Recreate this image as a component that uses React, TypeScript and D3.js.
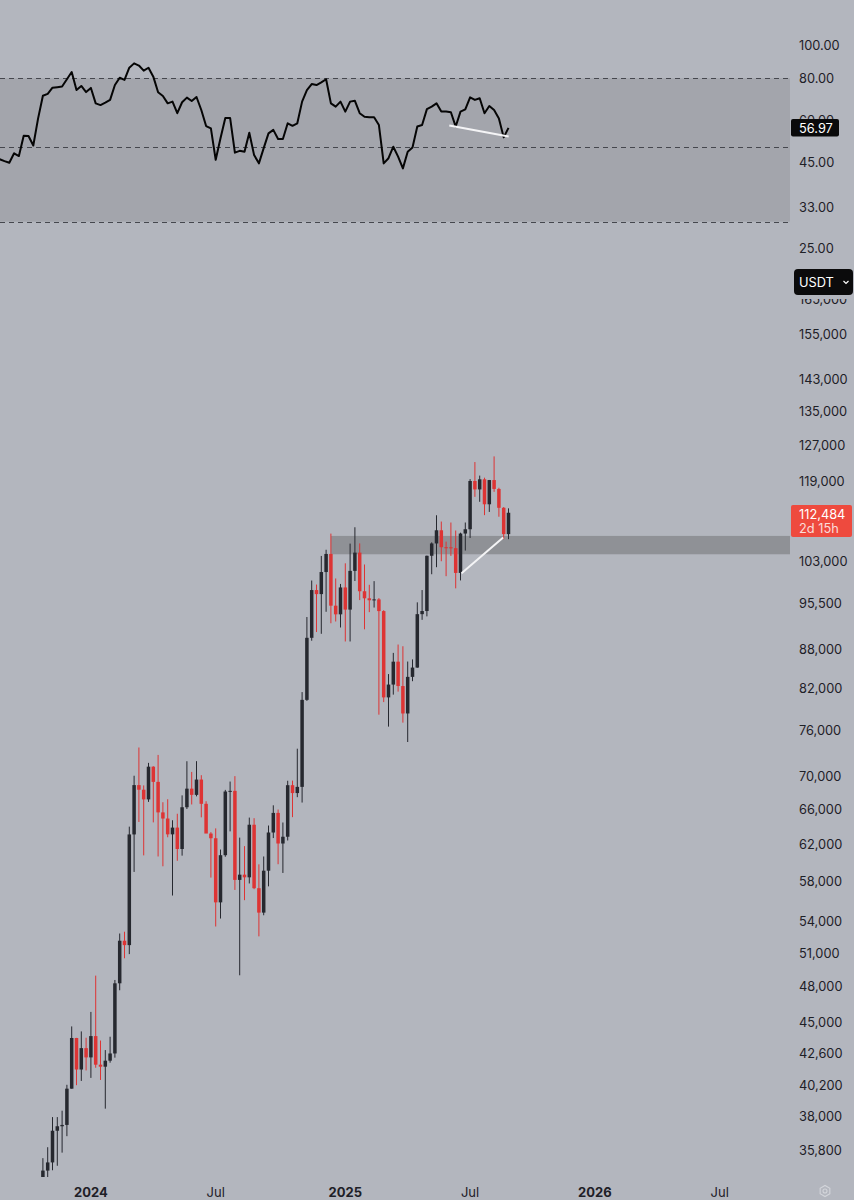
import React from "react";
import * as d3 from "d3";

const W = 854;
const H = 1200;
const PLOT_RIGHT = 790;

// ---- weekly candles (Monday opens) ----
const weeks = [
  "2023-10-23","2023-10-30","2023-11-06","2023-11-13","2023-11-20","2023-11-27","2023-12-04","2023-12-11","2023-12-18","2023-12-25",
  "2024-01-01","2024-01-08","2024-01-15","2024-01-22","2024-01-29","2024-02-05","2024-02-12","2024-02-19","2024-02-26","2024-03-04",
  "2024-03-11","2024-03-18","2024-03-25","2024-04-01","2024-04-08","2024-04-15","2024-04-22","2024-04-29","2024-05-06","2024-05-13",
  "2024-05-20","2024-05-27","2024-06-03","2024-06-10","2024-06-17","2024-06-24","2024-07-01","2024-07-08","2024-07-15","2024-07-22",
  "2024-07-29","2024-08-05","2024-08-12","2024-08-19","2024-08-26","2024-09-02","2024-09-09","2024-09-16","2024-09-23","2024-09-30",
  "2024-10-07","2024-10-14","2024-10-21","2024-10-28","2024-11-04","2024-11-11","2024-11-18","2024-11-25","2024-12-02","2024-12-09",
  "2024-12-16","2024-12-23","2024-12-30","2025-01-06","2025-01-13","2025-01-20","2025-01-27","2025-02-03","2025-02-10","2025-02-17",
  "2025-02-24","2025-03-03","2025-03-10","2025-03-17","2025-03-24","2025-03-31","2025-04-07","2025-04-14","2025-04-21","2025-04-28",
  "2025-05-05","2025-05-12","2025-05-19","2025-05-26","2025-06-02","2025-06-09","2025-06-16","2025-06-23","2025-06-30","2025-07-07",
  "2025-07-14","2025-07-21","2025-07-28","2025-08-04","2025-08-11","2025-08-18","2025-08-25","2025-09-01",
];
const opens = [
  29990,34500,35010,37060,37360,37450,39970,43780,41370,42990,
  42280,43930,41730,41580,42030,42580,48300,52140,51730,63110,
  68960,68390,67210,71280,69360,65660,64940,63120,63890,61480,
  66270,68520,67760,69650,66680,63210,62680,55860,60800,68170,
  68250,58160,58710,58430,64220,57300,54840,59130,63330,65600,
  62090,62850,68950,67980,68740,80370,89850,97900,97190,101120,
  104460,95190,93720,98360,94520,101330,104710,97690,96460,96120,
  96270,94270,80730,82610,86080,82390,78430,83760,85170,93750,
  94280,104120,106450,109000,105730,105710,105550,100960,108360,109200,
  119090,117300,119450,114210,119290,117400,113490,108250,
];
const highs = [
  35280,35980,37980,37980,38420,40250,44700,43790,44300,43800,
  45880,48970,43580,42840,43880,48590,52820,52990,64000,70130,
  73780,68920,71770,71340,72800,66870,67230,64740,65500,67700,
  71980,70610,71990,70200,66990,63370,63800,61420,68370,69400,
  70080,62750,61800,65050,64980,59810,60660,64130,66500,66000,
  64480,69500,69520,73620,81500,93270,99590,98870,104090,105250,
  108350,99960,98980,102720,106420,109590,106460,102500,98830,99480,
  96500,94420,84180,87450,88770,88500,86100,86430,95760,97900,
  104150,106660,111980,110720,106800,110530,108950,108530,110530,119490,
  123220,120250,119800,119310,124470,117650,113650,113380,
];
const lows = [
  29660,34080,34520,34800,35630,36700,39970,40220,40530,41300,
  40750,41500,40600,38560,41880,42260,47700,50520,50900,59000,
  64540,60780,66910,64490,60660,59600,62790,56550,60190,60750,
  66060,66600,67580,65080,63380,58400,53490,54260,60630,63460,
  57120,49000,56080,57790,57200,52550,54580,57490,62700,59820,
  58890,62430,65100,67480,66830,80220,89380,90790,90500,94150,
  92230,92520,91530,89260,89260,99500,96150,91230,94090,94870,
  78260,80050,76600,81130,81570,77150,74510,83110,85140,92800,
  93380,100720,102000,103100,100370,104100,98200,99610,105100,107500,
  115740,114720,112000,112650,116800,111680,107260,107270,
];
const closes = [
  34500,35010,37060,37360,37450,39970,43780,41370,42990,42280,
  43930,41730,41580,42030,42580,48300,52140,51730,63110,68960,
  68390,67210,71280,69360,65660,64940,63120,63890,61480,66270,
  68520,67760,69650,66680,63210,62680,55860,60800,68170,68250,
  58160,58710,58430,64220,57300,54840,59130,63330,65600,62090,
  62850,68950,67980,68740,80370,89850,97900,97190,101120,104460,
  95190,93720,98360,94520,101330,104710,97690,96460,96120,96270,
  94270,80730,82610,86080,82390,78430,83760,85170,93750,94280,
  104120,106450,109000,105730,105710,105550,100960,108360,109200,119090,
  117300,119450,114210,119290,117400,113490,108250,112484,
];

// ---- RSI (weekly), starting 9 weeks before the first visible candle ----
const rsiLeadWeeks = ["2023-08-21","2023-08-28","2023-09-04","2023-09-11","2023-09-18","2023-09-25","2023-10-02","2023-10-09","2023-10-16"];
const rsiValues = [
  46.0,45.4,44.9,47.9,47.0,54.0,53.9,50.5,60.8,
  71.0,71.9,75.0,75.3,75.6,79.5,83.5,73.8,75.9,72.8,
  74.9,67.4,66.6,67.7,69.0,76.4,80.3,79.1,86.0,88.6,
  87.3,84.3,86.0,80.9,72.7,70.9,67.4,68.2,63.0,67.9,
  70.1,68.5,70.4,64.4,57.7,56.8,45.8,53.1,61.0,61.0,
  48.1,48.7,48.4,55.1,47.3,44.7,49.6,54.9,56.2,52.8,
  52.8,58.8,57.8,58.8,68.2,73.8,76.9,76.4,77.8,79.5,
  67.4,65.9,68.2,63.7,68.2,68.6,63.0,61.5,61.3,61.3,
  58.1,44.7,46.3,50.1,46.8,43.2,48.4,49.8,57.5,58.1,
  64.8,65.9,67.4,63.7,63.7,63.4,57.5,63.7,64.7,70.2,
  69.0,69.8,63.0,66.2,64.4,60.8,53.4,56.97,
];

// ---- axes ----
const priceTicks = [165000,155000,143000,135000,127000,119000,103000,95500,88000,82000,76000,70000,66000,62000,58000,54000,51000,48000,45000,42600,40200,38000,35800];
const rsiTicks = [100, 80, 60, 45, 33, 25];
const rsiBandLevels = [80, 50, 30];
// labels sit on the first weekly bar of each period
const timeTickDates = ["2024-01-01","2024-07-01","2025-01-06","2025-07-07","2026-01-05","2026-07-06"];
const timeTickLabels = ["2024","Jul","2025","Jul","2026","Jul"];
const timeTickBold = [true,false,true,false,true,false];

// ---- drawings ----
const zoneStart = "2024-12-16";
const zoneLow = 104400;
const zoneHigh = 107900;
const priceTrendDates = ["2025-06-24T12:00:00Z","2025-08-24T06:00:00Z"];
const priceTrendValues = [100900, 107600];
const rsiTrendDates = ["2025-06-06T16:00:00Z","2025-09-01T06:00:00Z"];
const rsiTrendValues = [57.9, 53.7];

const lastPrice = "112,484";
const countdown = "2d 15h";
const lastRsi = "56.97";

const FONT = "Inter, 'Noto Sans', 'DejaVu Sans', sans-serif";
const BG = "#b3b6be";
const BAND = "#a3a5ac";
const ZONE = "#8f9196";
const RED = "#dd3434";
const DARK = "#26282f";
const TEXT = "#1e2027";

const d = (s: string) => new Date(s.length === 10 ? s + "T00:00:00Z" : s);

export default function App() {
  React.useEffect(() => {
    document.body.style.margin = "0";
  }, []);

  const x = d3
    .scaleUtc()
    .domain([d("2024-01-01"), d("2026-07-01")])
    .range([90.9, 90.9 + (912 / 7) * 4.8]);
  const y = d3.scaleLog().domain([35800, 155000]).range([1150, 334.3]);
  const yr = d3.scaleLog().domain([25, 80]).range([248.3, 78.3]);

  const rsiDates = rsiLeadWeeks.concat(weeks);
  const rsiPts: [number, number][] = rsiValues.map((v, i) => [x(d(rsiDates[i])), yr(v)]);
  const rsiPath = d3.line()(rsiPts) || "";

  const bodyW = 3.5;

  return (
    <svg
      width={W}
      height={H}
      viewBox={`0 0 ${W} ${H}`}
      style={{ position: "absolute", left: 0, top: 0, display: "block" }}
      fontFamily={FONT}
    >
      <defs>
        <clipPath id="rsiClip">
          <rect x={0} y={0} width={PLOT_RIGHT} height={258} />
        </clipPath>
        <clipPath id="priceClip">
          <rect x={0} y={262} width={PLOT_RIGHT} height={1177 - 262} />
        </clipPath>
        <clipPath id="axisClip">
          <rect x={PLOT_RIGHT} y={299} width={W - PLOT_RIGHT} height={1177 - 299} />
        </clipPath>
      </defs>
      <rect x={0} y={0} width={W} height={H} fill={BG} />

      {/* RSI pane */}
      <g clipPath="url(#rsiClip)">
        <rect x={0} y={yr(80)} width={PLOT_RIGHT} height={yr(30) - yr(80)} fill={BAND} />
        {rsiBandLevels.map((lv) => (
          <line
            key={lv}
            x1={0}
            x2={PLOT_RIGHT}
            y1={Math.round(yr(lv)) + 0.5}
            y2={Math.round(yr(lv)) + 0.5}
            stroke="#45474e"
            strokeWidth={1}
            strokeDasharray="5 4"
          />
        ))}
        <path d={rsiPath} fill="none" stroke="#050505" strokeWidth={2} strokeLinejoin="round" />
        <line
          x1={x(d(rsiTrendDates[0]))}
          y1={yr(rsiTrendValues[0])}
          x2={x(d(rsiTrendDates[1]))}
          y2={yr(rsiTrendValues[1])}
          stroke="#f4f4f6"
          strokeWidth={2}
        />
      </g>

      {/* RSI axis */}
      {rsiTicks.map((t) => (
        <text key={t} x={799} y={yr(t)} dominantBaseline="central" fontSize={12.8} fill={TEXT}>
          {t.toFixed(2)}
        </text>
      ))}
      <rect x={791} y={119} width={48} height={17.5} rx={2} fill="#0a0a0b" />
      <text x={799} y={128} dominantBaseline="central" fontSize={12.8} fill="#ffffff">
        {lastRsi}
      </text>

      {/* price pane */}
      <g clipPath="url(#priceClip)">
        <rect
          x={x(d(zoneStart))}
          y={y(zoneHigh)}
          width={PLOT_RIGHT - x(d(zoneStart))}
          height={y(zoneLow) - y(zoneHigh)}
          fill={ZONE}
        />
        {weeks.map((w, i) => {
          const cx = x(d(w));
          const o = opens[i];
          const c = closes[i];
          const col = c >= o ? DARK : RED;
          const yTop = y(Math.max(o, c));
          const yBot = y(Math.min(o, c));
          return (
            <g key={w}>
              <line x1={cx} x2={cx} y1={y(highs[i])} y2={y(lows[i])} stroke={col} strokeWidth={1} />
              <rect x={cx - bodyW / 2} y={yTop} width={bodyW} height={Math.max(1, yBot - yTop)} fill={col} />
            </g>
          );
        })}
        <line
          x1={x(d(priceTrendDates[0]))}
          y1={y(priceTrendValues[0])}
          x2={x(d(priceTrendDates[1]))}
          y2={y(priceTrendValues[1])}
          stroke="#f4f4f6"
          strokeWidth={2}
        />
      </g>

      {/* price axis */}
      <g clipPath="url(#axisClip)">
        {priceTicks.map((t) => (
          <text key={t} x={799} y={y(t)} dominantBaseline="central" fontSize={12.8} fill={TEXT}>
            {d3.format(",")(t)}
          </text>
        ))}
      </g>
      <rect x={791} y={505} width={61} height={32} rx={2} fill="#ee4a3e" />
      <text x={799} y={514} dominantBaseline="central" fontSize={12.8} fill="#ffffff">
        {lastPrice}
      </text>
      <text x={799} y={528} dominantBaseline="central" fontSize={12.8} fill="#ffffff" fillOpacity={0.82}>
        {countdown}
      </text>

      {/* currency button */}
      <rect x={794} y={269} width={59} height={26} rx={4} fill="#0b0b0c" />
      <text x={799} y={282.5} dominantBaseline="central" fontSize={12.8} fill="#ffffff">
        USDT
      </text>
      <path d="M843.5 281 L846 283.5 L848.5 281" fill="none" stroke="#ffffff" strokeWidth={1.2} />

      {/* time axis */}
      {timeTickDates.map((t, i) => (
        <text
          key={t}
          x={x(d(t))}
          y={1192}
          textAnchor="middle"
          dominantBaseline="central"
          fontSize={13}
          fontWeight={timeTickBold[i] ? 700 : 400}
          fill={TEXT}
        >
          {timeTickLabels[i]}
        </text>
      ))}

      {/* settings icon */}
      <g transform="translate(825,1191)" fill="none" stroke="#d3d5da" strokeWidth={1.1}>
        <polygon points={d3.range(6).map((k) => {
          const a = (Math.PI / 3) * k + Math.PI / 6;
          return `${5.6 * Math.cos(a)},${5.6 * Math.sin(a)}`;
        }).join(" ")} />
        <circle r={2} />
      </g>
    </svg>
  );
}
